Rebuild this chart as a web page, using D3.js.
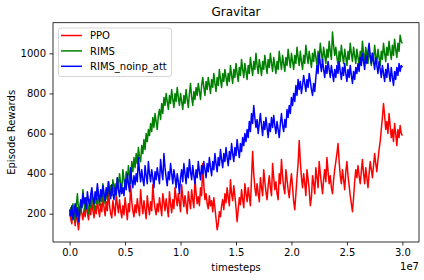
<!DOCTYPE html>
<html lang="en">
    <head>
        <meta charset="utf-8">
        <title>Gravitar</title>
        <script src="https://d3js.org/d3.v7.min.js"></script>
        <style>
            body {
                margin: 0;
                background-color: #FFFFFF;
            }
            svg {
                font-family: "DejaVu Sans", sans-serif;
            }
        </style>
    </head>
    <body>
        <svg id="chart"></svg>
        <script>
            // rewards logged every 1e5 timesteps, 0 .. 3e7
            const ppo = [200,175,150,230,190,140,210,165,120,180,240,200,170,225,185,250,205,170,230,195,
                260,215,180,240,200,275,220,185,250,210,290,230,190,260,215,330,240,200,180,265,
                225,190,300,245,205,270,215,180,240,195,280,225,170,250,210,340,260,215,185,245,
                205,275,230,190,320,250,200,265,220,175,290,235,195,260,215,345,270,225,195,250,
                210,280,235,190,300,260,215,275,230,185,310,250,205,270,225,330,280,240,300,255,
                210,345,280,235,290,245,200,310,265,225,320,270,230,380,300,250,285,240,330,290,
                450,340,270,300,250,225,290,240,265,210,280,230,175,120,150,210,185,240,270,220,
                300,255,330,280,240,370,300,265,340,290,230,160,220,280,245,320,270,230,350,300,
                260,330,285,240,380,510,400,330,290,350,300,260,380,330,290,420,360,310,270,340,
                390,330,290,450,380,320,360,300,270,400,350,470,390,330,300,420,370,320,280,350,
                400,330,260,220,300,380,450,565,460,380,330,400,350,290,420,370,320,240,280,390,
                350,300,430,380,330,460,400,350,300,370,420,360,480,410,350,390,330,300,370,420,
                460,500,550,460,390,350,420,370,320,410,460,390,340,290,250,210,280,360,420,380,
                440,390,350,410,470,400,350,430,380,330,400,460,420,380,440,500,450,410,470,520,
                560,620,680,750,690,620,660,600,700,640,580,620,560,650,600,540,620,580,640,600,
                590];

            const rims = [190,230,170,250,210,160,240,300,220,190,260,230,320,250,210,280,240,200,270,230,
                300,260,220,290,250,330,280,240,300,260,350,290,250,320,270,360,300,340,290,370,
                310,350,290,380,330,400,350,310,420,370,330,410,360,440,390,350,460,410,480,430,
                500,450,530,480,460,540,500,570,520,600,560,620,590,650,610,680,630,700,660,620,
                690,720,670,750,700,780,740,800,760,720,790,750,820,770,730,800,760,830,780,740,
                800,760,720,790,750,820,770,730,800,850,780,740,810,770,830,790,850,810,770,840,
                880,830,790,860,820,880,840,800,870,830,900,850,810,880,840,920,870,830,900,860,
                920,880,840,900,860,940,890,850,920,880,950,900,860,930,890,970,920,880,950,910,
                870,940,900,980,930,890,960,920,1000,940,900,970,930,890,960,920,990,940,900,970,
                930,1000,950,910,980,940,900,960,920,1010,960,920,990,950,910,980,940,1020,970,930,
                1000,960,920,990,950,1030,980,940,1010,960,920,990,950,1040,990,950,1010,970,930,1000,
                960,1020,980,940,1010,970,1050,1000,960,1030,990,950,1020,980,1060,1010,970,1106,1040,990,
                1030,980,940,1010,960,1040,990,950,1020,980,940,1010,970,1050,1000,960,1030,990,950,1020,
                980,940,1010,970,1060,1000,960,1030,990,950,1020,980,940,1000,960,1040,990,950,1020,980,
                940,1010,970,1050,1000,960,1030,990,1060,1010,970,1040,990,1070,1020,980,1050,1010,1090,1060,
                1050];

            const rimsNoinp = [220,190,240,170,210,250,185,230,160,215,270,230,300,250,280,225,310,265,240,295,
                330,280,250,310,270,350,295,260,320,285,340,300,265,330,290,360,310,275,345,300,
                270,330,295,380,320,285,350,300,330,290,370,320,400,350,310,430,370,330,390,345,
                400,360,480,410,360,420,370,340,440,390,350,460,400,360,420,380,330,410,370,430,
                390,350,470,410,370,500,430,380,340,410,370,450,400,350,420,380,330,400,360,300,
                380,420,360,450,400,350,430,380,470,410,370,440,390,350,420,380,460,410,370,440,
                400,460,420,380,450,410,480,430,390,460,420,500,450,410,480,440,520,470,430,500,
                460,530,480,440,510,470,550,500,460,530,490,570,520,480,550,510,580,540,600,560,
                620,580,660,610,700,650,740,680,630,670,600,650,700,640,590,660,620,680,630,580,
                650,610,680,630,690,640,600,660,620,580,650,700,640,610,670,630,720,680,740,700,
                780,740,800,760,840,790,870,820,860,800,840,890,850,810,870,830,900,860,820,790,
                850,810,880,940,900,1000,950,910,970,920,880,940,900,960,920,880,940,900,860,920,
                880,940,900,960,910,870,930,890,950,900,860,920,880,940,890,850,910,870,930,900,
                950,910,980,940,1000,960,920,990,950,1010,1050,990,950,1000,960,920,980,940,900,960,
                920,880,940,900,860,920,880,950,900,860,930,880,840,910,870,930,890,950,910,940,
                930];

            const steps = ppo.map((d, i) => i * 1e5);

            const seriesNames = ["PPO", "RIMS", "RIMS_noinp_att"];
            const seriesColors = ["#FF0000", "#008000", "#0000FF"];
            const xTicks = [0, 0.5e7, 1.0e7, 1.5e7, 2.0e7, 2.5e7, 3.0e7];
            const yTicks = [200, 400, 600, 800, 1000];

            //chart dimensions
            const width = 424, height = 280;
            const margin = { top: 22.7, right: 5, bottom: 38, left: 53 };

            const svg = d3.select("#chart")
                    .attr("width", width)
                    .attr("height", height);

            const xScale = d3.scaleLinear()
                    .domain([-0.15e7, 3.15e7])
                    .range([margin.left, width - margin.right]);

            const yScale = d3.scaleLinear()
                    .domain([59, 1153])
                    .range([height - margin.bottom, margin.top]);

            //lines
            const line = d3.line()
                    .x((d, i) => xScale(steps[i]))
                    .y(d => yScale(d));

            [ppo, rims, rimsNoinp].forEach((s, k) => {
                svg.append("path")
                    .datum(s)
                    .attr("fill", "none")
                    .attr("stroke", seriesColors[k])
                    .attr("stroke-width", 1.5)
                    .attr("stroke-linejoin", "round")
                    .attr("d", line);
            });

            //axes
            const xAxis = d3.axisBottom(xScale)
                    .tickValues(xTicks)
                    .tickSize(3.5)
                    .tickPadding(3.5)
                    .tickFormat(d => (d / 1e7).toFixed(1));
            const yAxis = d3.axisLeft(yScale)
                    .tickValues(yTicks)
                    .tickSize(3.5)
                    .tickPadding(3.5)
                    .tickFormat(d3.format("d"));

            const gx = svg.append("g")
                    .attr("transform", `translate(0, ${height - margin.bottom})`)
                    .call(xAxis);
            const gy = svg.append("g")
                    .attr("transform", `translate(${margin.left}, 0)`)
                    .call(yAxis);
            [gx, gy].forEach(g => {
                g.select(".domain").remove();
                g.selectAll("line").attr("stroke", "#000").attr("stroke-width", 0.8);
                g.selectAll("text").attr("fill", "#000")
                    .style("font-size", "10px")
                    .style("font-family", "DejaVu Sans");
            });

            // frame
            svg.append("rect")
                    .attr("x", margin.left)
                    .attr("y", margin.top)
                    .attr("width", width - margin.left - margin.right)
                    .attr("height", height - margin.top - margin.bottom)
                    .attr("fill", "none")
                    .attr("stroke", "#000")
                    .attr("stroke-width", 0.8);

            //labels
            svg.append("text")
                    .attr("x", (margin.left + width - margin.right) / 2)
                    .attr("y", 16)
                    .attr("text-anchor", "middle")
                    .style("font-size", "12px")
                    .text("Gravitar");

            svg.append("text")
                    .attr("x", (margin.left + width - margin.right) / 2)
                    .attr("y", 271)
                    .attr("text-anchor", "middle")
                    .style("font-size", "10px")
                    .text("timesteps");

            svg.append("text")
                    .attr("x", width - margin.right)
                    .attr("y", 270)
                    .attr("text-anchor", "end")
                    .style("font-size", "10px")
                    .text("1e7");

            svg.append("text")
                    .attr("transform", `translate(15, ${(margin.top + height - margin.bottom) / 2}) rotate(-90)`)
                    .attr("text-anchor", "middle")
                    .style("font-size", "10px")
                    .text("Episode Rewards");

            //legend
            const legend = svg.append("g");
            legend.append("rect")
                    .attr("x", 58.5)
                    .attr("y", 28)
                    .attr("width", 113)
                    .attr("height", 48.5)
                    .attr("rx", 2.5)
                    .attr("fill", "rgba(255,255,255,0.8)")
                    .attr("stroke", "#CCCCCC")
                    .attr("stroke-width", 0.8);

            seriesNames.forEach((name, k) => {
                const y = 35.5 + k * 15.4;
                legend.append("line")
                    .attr("x1", 61).attr("x2", 82)
                    .attr("y1", y).attr("y2", y)
                    .attr("stroke", seriesColors[k])
                    .attr("stroke-width", 1.5);
                legend.append("text")
                    .attr("x", 90)
                    .attr("y", y + 3.6)
                    .style("font-size", "10px")
                    .text(name);
            });
        </script>
    </body>
</html>
